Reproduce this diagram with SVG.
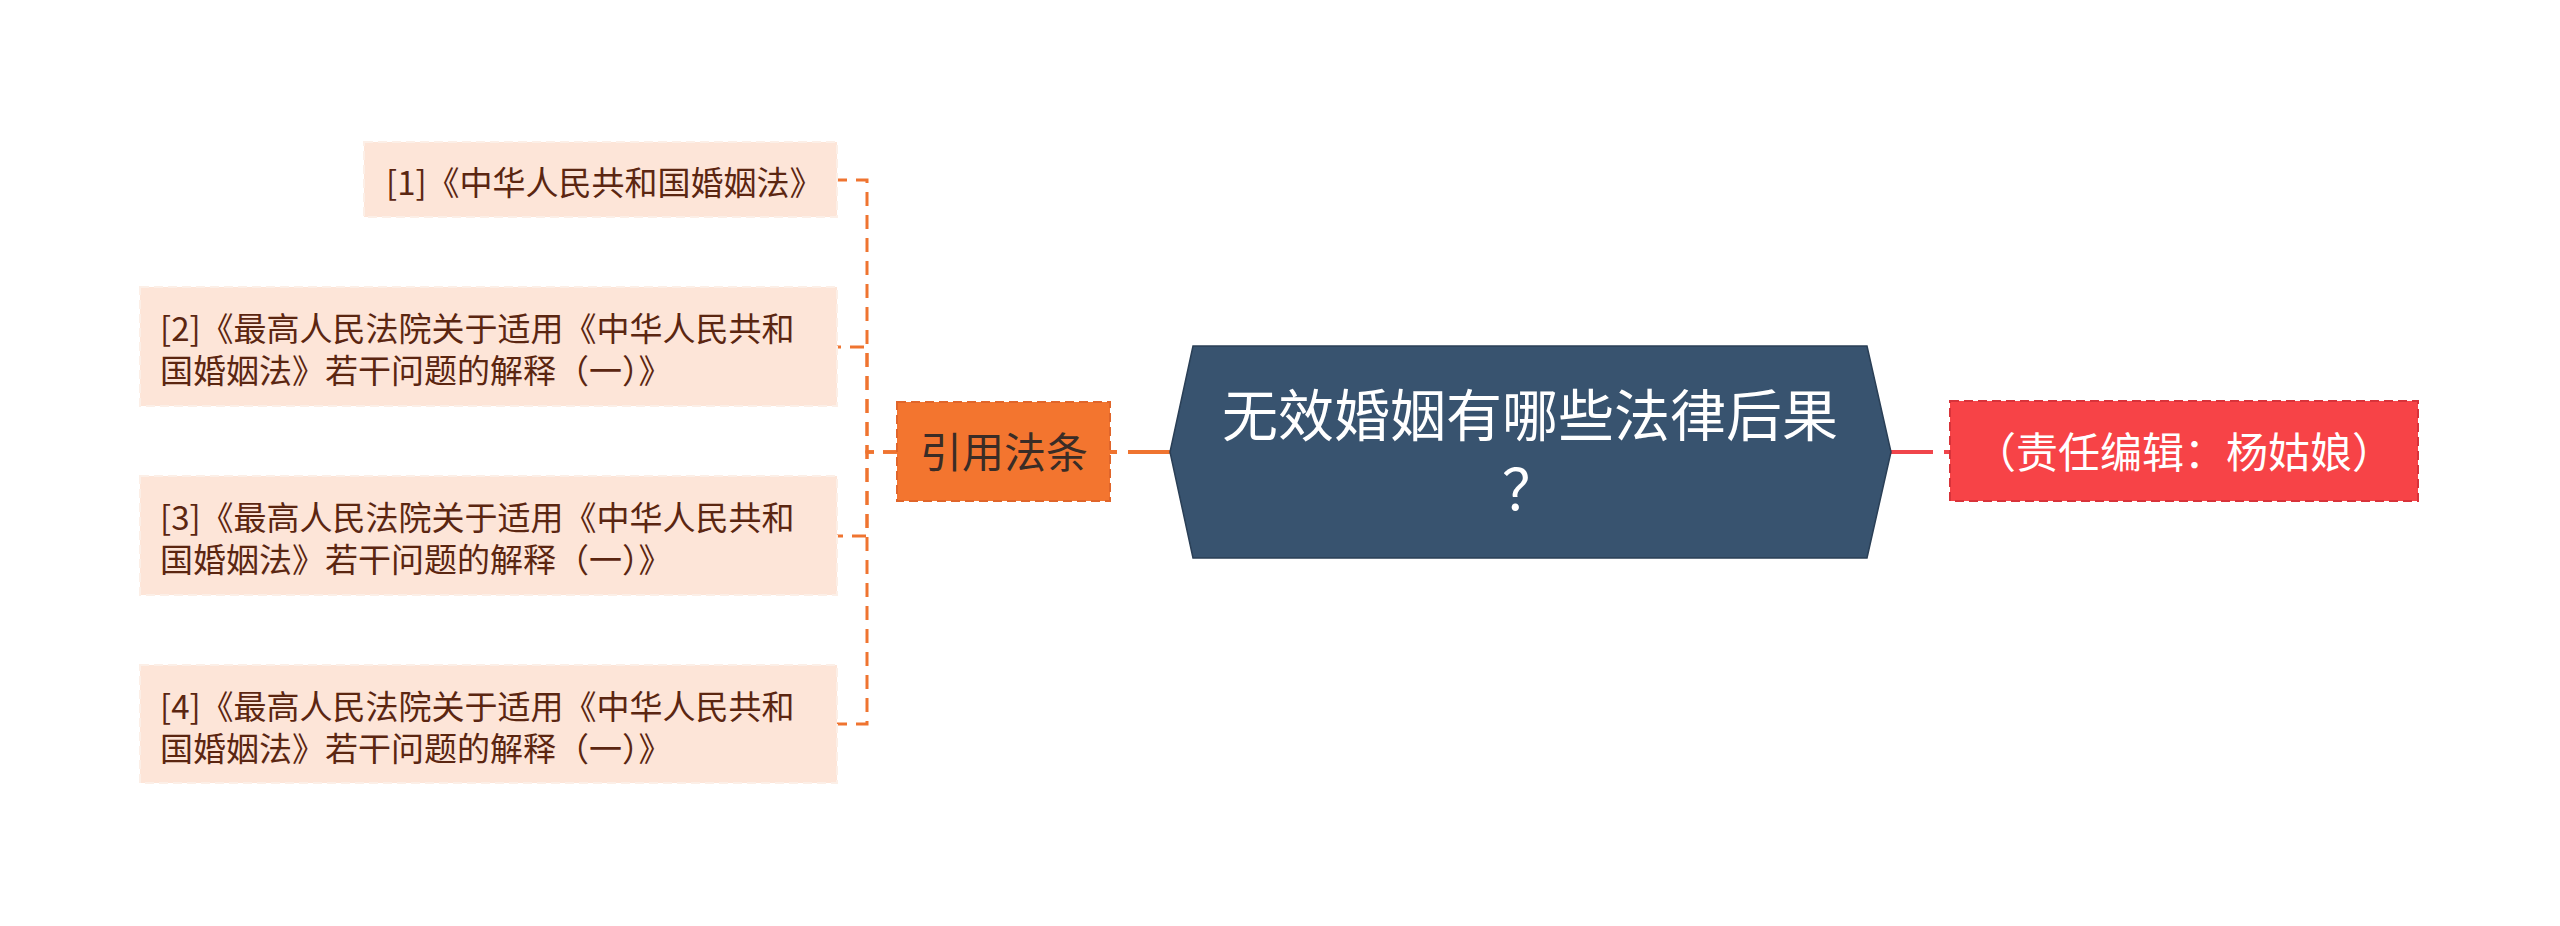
<svg xmlns="http://www.w3.org/2000/svg" width="2560" height="926" viewBox="0 0 2560 926">
<style>
.leaf rect{fill:#fde5d8;stroke:#fcefe7;stroke-width:2;stroke-dasharray:9 5}
.leaf text{font-family:"Noto Sans CJK SC","Noto Sans",sans-serif;font-size:33px;fill:#5b2611}
.conn-l{fill:none;stroke:#ef7430;stroke-width:3;stroke-dasharray:14 9}
.conn-m{fill:none;stroke-width:4;stroke-dasharray:42 11}
.t{font-family:"Noto Sans CJK SC","Noto Sans",sans-serif}
</style>
<rect width="2560" height="926" fill="#ffffff"/>
<g id="connectors">
<path class="conn-l" d="M897 452 H867 V180 H837"/>
<path class="conn-l" d="M897 452 H867 V347 H837"/>
<path class="conn-l" d="M897 452 H867 V536 H837"/>
<path class="conn-l" d="M897 452 H867 V724 H837"/>
<path class="conn-m" stroke="#ef7430" d="M1170 452 H1110"/>
<path class="conn-m" stroke="#f0454b" d="M1891 452 H1950"/>
</g>
<g id="root">
<polygon points="1193,346 1867,346 1891,452 1867,558 1193,558 1170,452" fill="#38536f" stroke="#2a3f56" stroke-width="1.5"/>
<text class="t" font-size="56" fill="#ffffff" text-anchor="middle"><tspan x="1530" y="436">无效婚姻有哪些法律后果</tspan><tspan x="1530" y="510">？</tspan></text>
</g>
<g id="cite">
<rect x="897" y="402" width="213" height="99" fill="#f3752f" stroke="#e0652a" stroke-width="2" stroke-dasharray="9 5"/>
<text class="t" x="1004" y="468" font-size="42" fill="#3a2c26" text-anchor="middle">引用法条</text>
</g>
<g id="editor">
<rect x="1950" y="401" width="468" height="100" fill="#f74347" stroke="#d8333a" stroke-width="2" stroke-dasharray="9 5"/>
<text class="t" x="2184" y="468" font-size="42" fill="#ffffff" text-anchor="middle">（责任编辑：杨姑娘）</text>
</g>
<g id="ref1" class="leaf">
<rect x="364" y="142" width="473" height="75"/>
<text x="386" y="194.5">[1]《中华人民共和国婚姻法》</text>
</g>
<g id="ref2" class="leaf">
<rect x="140" y="287" width="697" height="119"/>
<text><tspan x="160" y="340.5">[2]《最高人民法院关于适用《中华人民共和</tspan><tspan x="160" y="382.5">国婚姻法》若干问题的解释（一）》</tspan></text>
</g>
<g id="ref3" class="leaf">
<rect x="140" y="476" width="697" height="119"/>
<text><tspan x="160" y="529.5">[3]《最高人民法院关于适用《中华人民共和</tspan><tspan x="160" y="571.5">国婚姻法》若干问题的解释（一）》</tspan></text>
</g>
<g id="ref4" class="leaf">
<rect x="140" y="665" width="697" height="118"/>
<text><tspan x="160" y="718.5">[4]《最高人民法院关于适用《中华人民共和</tspan><tspan x="160" y="760.5">国婚姻法》若干问题的解释（一）》</tspan></text>
</g>
</svg>
